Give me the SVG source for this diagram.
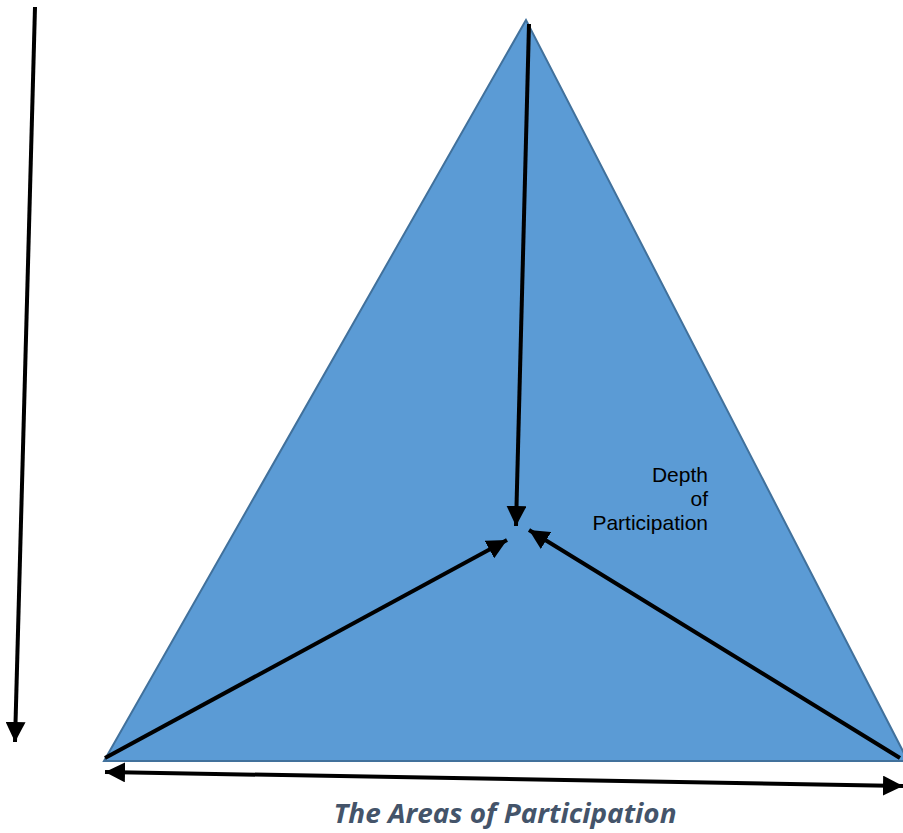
<svg xmlns="http://www.w3.org/2000/svg" width="903" height="833" viewBox="0 0 903 833">
<style>
.conn{stroke:#000;stroke-width:4;fill:none}
.lbl{font-family:"Liberation Sans",Arial,sans-serif;font-size:21px;fill:#000;text-anchor:end}
.title{font-family:"Open Sans","Noto Sans",sans-serif;font-size:26px;font-weight:bold;font-style:italic;fill:#44546A;text-anchor:middle}
</style>
<defs>
<marker id="ah" markerUnits="userSpaceOnUse" markerWidth="22" markerHeight="20" refX="20" refY="10" orient="auto-start-reverse" viewBox="0 0 22 20">
<path d="M0,0 L20,10 L0,20 z" fill="#000"/>
</marker>
</defs>
<g id="triangle">
<polygon points="526,20 104,761 908,761" fill="#5B9BD5" stroke="#41719C" stroke-width="2"/>
</g>
<g id="label-depth">
<text class="lbl" x="708" y="482">Depth</text>
<text class="lbl" x="708" y="506">of</text>
<text class="lbl" x="708" y="530">Participation</text>
</g>
<g id="title">
<text class="title" x="505" y="823" textLength="343" lengthAdjust="spacingAndGlyphs">The Areas of Participation</text>
</g>
<g id="connectors">
<line class="conn" x1="35" y1="7" x2="15" y2="742" marker-end="url(#ah)"/>
<line class="conn" x1="529" y1="24" x2="516" y2="526" marker-end="url(#ah)"/>
<line class="conn" x1="105" y1="758" x2="507" y2="540" marker-end="url(#ah)"/>
<line class="conn" x1="900" y1="758" x2="529" y2="530" marker-end="url(#ah)"/>
<line class="conn" x1="105" y1="772" x2="903" y2="786" marker-start="url(#ah)" marker-end="url(#ah)"/>
</g>
</svg>
